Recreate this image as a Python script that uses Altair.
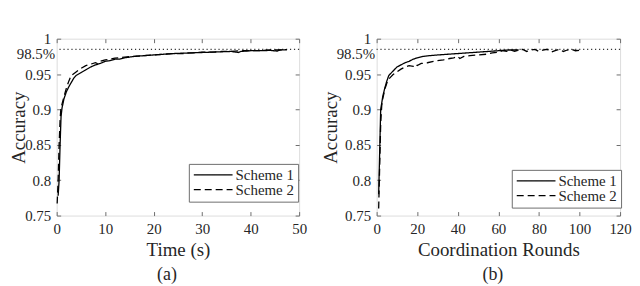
import altair as alt
import pandas as pd

FONT = "Liberation Serif"
TXT = "#262626"
AX = "#6e6e6e"

series_names = ["Scheme 1", "Scheme 2"]

# ---- (a) accuracy vs time ----
a1_t = [0.3, 0.5, 0.7, 0.9, 1.1, 1.5, 2.0, 2.5, 3.0, 3.5, 4.0, 5.0, 6.0, 7.0, 8.0, 9.0, 10.0, 11.0, 12.0,
        13.0, 14.0, 15.0, 16.0, 17.0, 18.0, 20.0, 22.0, 24.0, 26.0, 28.0, 30.0, 32.0, 34.0, 36.0, 37.5,
        38.0, 40.0, 42.0, 44.0, 45.5, 46.0, 47.5]
a1_acc = [0.778, 0.80, 0.85, 0.89, 0.902, 0.915, 0.925, 0.932, 0.938, 0.944, 0.948, 0.952, 0.956, 0.960,
          0.963, 0.965, 0.968, 0.969, 0.971, 0.971, 0.973, 0.974, 0.975, 0.9755, 0.976, 0.977, 0.978,
          0.979, 0.9795, 0.980, 0.9805, 0.981, 0.9815, 0.982, 0.9805, 0.982, 0.983, 0.983, 0.9835,
          0.9825, 0.984, 0.9845]
a2_t = [0.1, 0.3, 0.5, 0.7, 0.85, 1.0, 1.5, 2.0, 2.5, 3.0, 4.0, 5.0, 6.0, 7.0, 8.0, 8.5, 9.0, 10.0, 11.0,
        12.0, 13.0, 14.0, 16.0, 18.0, 20.0, 22.0, 24.0, 26.0, 28.0, 30.0, 32.0, 34.0, 36.0, 38.0, 40.0,
        42.0, 44.0, 46.0, 47.5]
a2_acc = [0.767, 0.80, 0.85, 0.885, 0.90, 0.905, 0.918, 0.930, 0.940, 0.948, 0.953, 0.958, 0.962, 0.964,
          0.966, 0.9645, 0.968, 0.970, 0.971, 0.9725, 0.973, 0.974, 0.975, 0.976, 0.977, 0.978, 0.979,
          0.979, 0.980, 0.981, 0.981, 0.982, 0.982, 0.983, 0.983, 0.983, 0.984, 0.984, 0.9845]

# ---- (b) accuracy vs coordination rounds ----
b1_r = [1, 1.5, 2, 3, 4, 5, 6, 7, 8, 10, 12, 14, 16, 18, 20, 23, 26, 30, 35, 40, 45, 50, 55, 60, 65, 70]
b1_acc = [0.78, 0.84, 0.90, 0.918, 0.930, 0.940, 0.948, 0.951, 0.954, 0.960, 0.963, 0.966, 0.968, 0.971,
          0.973, 0.975, 0.976, 0.977, 0.978, 0.979, 0.980, 0.981, 0.982, 0.983, 0.984, 0.984]
b2_r = [1, 1.5, 2, 2.5, 3, 4, 5, 6, 7, 8, 10, 12, 14, 16, 18, 19, 20, 22, 25, 28, 30, 33, 36, 38, 40, 41,
        43, 46, 50, 54, 57, 60, 62, 64, 66, 68, 70, 72, 74, 76, 78, 80, 82, 84, 86, 88, 90, 92, 94, 96,
        98, 101]
b2_acc = [0.76, 0.82, 0.88, 0.905, 0.915, 0.928, 0.937, 0.943, 0.946, 0.949, 0.953, 0.957, 0.960, 0.962,
          0.961, 0.964, 0.962, 0.965, 0.966, 0.968, 0.969, 0.970, 0.972, 0.973, 0.975, 0.972, 0.975,
          0.976, 0.977, 0.978, 0.980, 0.981, 0.983, 0.982, 0.984, 0.982, 0.984, 0.985, 0.982, 0.984,
          0.985, 0.982, 0.984, 0.985, 0.981, 0.983, 0.985, 0.982, 0.984, 0.985, 0.983, 0.984]

y_ticks = [0.75, 0.8, 0.85, 0.9, 0.95, 1]
a_xticks = [0, 10, 20, 30, 40, 50]
b_xticks = [0, 20, 40, 60, 80, 100, 120]
target = 0.985
target_label = "98.5%"


def frame(x1, y1, x2, y2):
    d1 = pd.DataFrame({"x": x1, "acc": y1, "series": series_names[0]})
    d2 = pd.DataFrame({"x": x2, "acc": y2, "series": series_names[1]})
    return pd.concat([d1, d2], ignore_index=True)


tick_style = dict(domain=False, grid=False, ticks=True, tickSize=4, offset=-4,
                  tickColor=AX, tickWidth=1)
label_style = dict(labelFont=FONT, labelFontSize=15, labelColor=TXT,
                   titleFont=FONT, titleFontSize=19, titleColor=TXT, titleFontWeight="normal")


def panel(df, xmax, xticks, xtitle, tag, tag_dx, lx, ly, title_pad, w):
    xs = alt.Scale(domain=[0, xmax], nice=False, zero=False)
    ys = alt.Scale(domain=[0.75, 1], nice=False, zero=False)
    lines = alt.Chart(df).mark_line(color="black", strokeWidth=1.3).encode(
        x=alt.X("x:Q", scale=xs,
                axis=alt.Axis(orient="bottom", values=xticks, title=xtitle, labelPadding=6,
                              titlePadding=4, labelFlush=False, **tick_style, **label_style)),
        y=alt.Y("acc:Q", scale=ys,
                axis=alt.Axis(orient="left", values=y_ticks, title="Accuracy",
                              labelExpr="toString(datum.value)", labelPadding=6,
                              titlePadding=title_pad, labelOverlap=False,
                              **tick_style, **label_style)),
        strokeDash=alt.StrokeDash(
            "series:N",
            scale=alt.Scale(domain=series_names, range=[[1, 0], [7, 4]]),
            legend=alt.Legend(title=None, orient="none", legendX=lx, legendY=ly,
                              direction="vertical", symbolType="stroke", symbolSize=1521,
                              symbolStrokeWidth=1.3, symbolStrokeColor="black", clipHeight=14,
                              labelFont=FONT, labelFontSize=15, labelColor=TXT, labelOffset=2,
                              padding=4, rowPadding=0, fillColor="white", strokeColor=AX,
                              cornerRadius=0)),
    )
    mirror = alt.Chart(df).mark_line(strokeOpacity=0).encode(
        x=alt.X("x:Q", scale=xs,
                axis=alt.Axis(orient="top", values=xticks, labels=False, title=None, **tick_style)),
        y=alt.Y("acc:Q", scale=ys,
                axis=alt.Axis(orient="right", values=y_ticks, labels=False, title=None, **tick_style)),
        detail="series:N",
    )
    tdf = pd.DataFrame({"x0": [0], "v": [target], "label": [target_label]})
    rule = alt.Chart(tdf).mark_rule(color="black", strokeDash=[1.2, 2.8], strokeWidth=1).encode(
        y=alt.Y("v:Q", scale=ys, axis=None))
    text = alt.Chart(tdf).mark_text(align="right", baseline="middle", dx=-1.5, dy=5, font=FONT,
                                    fontSize=15, color=TXT).encode(
        x=alt.X("x0:Q", scale=xs, axis=None),
        y=alt.Y("v:Q", scale=ys, axis=None),
        text="label:N")
    return alt.layer(lines, mirror, rule, text).properties(
        width=w, height=178,
        title=alt.TitleParams(tag, orient="bottom", anchor="middle", frame="group", dx=tag_dx,
                              offset=7, font=FONT, fontSize=18, fontWeight="normal", color=TXT))


pa = panel(frame(a1_t, a1_acc, a2_t, a2_acc), 50, a_xticks, "Time (s)", "(a)", -11, 133, 126, -3.5, 244)
pb = panel(frame(b1_r, b1_acc, b2_r, b2_acc), 120, b_xticks, "Coordination Rounds", "(b)", -5.5, 136, 132, 4, 245)

chart = alt.hconcat(pa, pb, spacing=78, bounds="flush").resolve_scale(
    strokeDash="independent").resolve_legend(strokeDash="independent").properties(
    padding={"top": 22, "left": 0, "right": 0, "bottom": 0}
).configure_view(stroke=AX, strokeWidth=1).configure(font=FONT, background="white")

chart.save("out.html", embed_options={"renderer": "svg", "actions": False})
